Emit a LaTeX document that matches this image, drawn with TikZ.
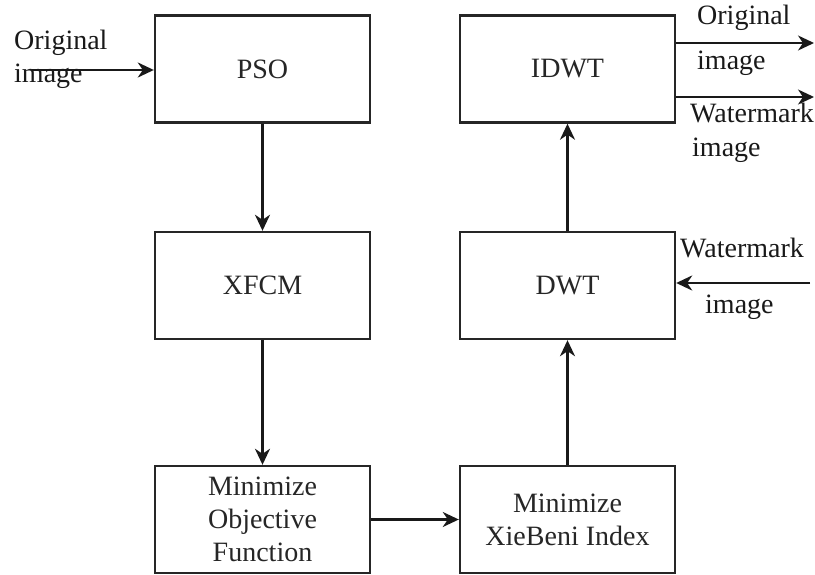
\documentclass[tikz,border=0pt]{standalone}
\usepackage{fontspec}
\setmainfont{Liberation Serif}
\newfontfamily\labelfont{Liberation Serif}
\usetikzlibrary{arrows.meta}
\begin{document}
\begin{tikzpicture}[x=1pt,y=-1pt,
  font=\labelfont\fontsize{28}{33}\selectfont,
  blockbox/.style={draw=black!85, line width=2.4pt, fill=white,
    minimum width=215pt, minimum height=107pt, inner sep=0pt,
    align=center, text=black!85},
  lbl/.style={anchor=base west, inner sep=0pt, text=black!90},
  flow/.style={line width=2.2pt, draw=black!90,
    -{Stealth[length=16pt,width=15pt,inset=5pt]}}]
\useasboundingbox (0,0) rectangle (815,575);

% processing blocks
\node[blockbox] (pso)  at (262.5,69)    {PSO};
\node[blockbox] (xfcm) at (262.5,285.5) {XFCM};
\node[blockbox] (mof)  at (262.5,519.5) {Minimize\\Objective\\Function};
\node[blockbox] (mxb)  at (567.5,519.5) {Minimize\\XieBeni Index};
\node[blockbox] (dwt)  at (567.5,285.5) {DWT};
\node[blockbox] (idwt) at (567.5,69)    {IDWT};

% free ends of the external connectors
\coordinate (inL)   at (32,70);
\coordinate (outA)  at (814,43);
\coordinate (outB)  at (814,97);
\coordinate (inWM)  at (810,283);

% external labels
\node[lbl] (t1) at (14,50)   {Original};
\node[lbl] (t2) at (14,83)   {image};
\node[lbl] (t3) at (697,25)  {Original};
\node[lbl] (t4) at (697,70)  {image};
\node[lbl] (t5) at (690,123) {Watermark};
\node[lbl] (t6) at (692,157) {image};
\node[lbl] (t7) at (680,258) {Watermark};
\node[lbl] (t8) at (705,313) {image};

% connectors
\draw[flow] (inL) -- (pso.west |- inL);
\draw[flow] (pso) -- (xfcm);
\draw[flow] (xfcm) -- (mof);
\draw[flow] (mof) -- (mxb);
\draw[flow] (mxb) -- (dwt);
\draw[flow] (dwt) -- (idwt);
\draw[flow] (inWM) -- (dwt.east |- inWM);
\draw[flow] (idwt.east |- outA) -- (outA);
\draw[flow] (idwt.east |- outB) -- (outB);
\end{tikzpicture}
\end{document}
